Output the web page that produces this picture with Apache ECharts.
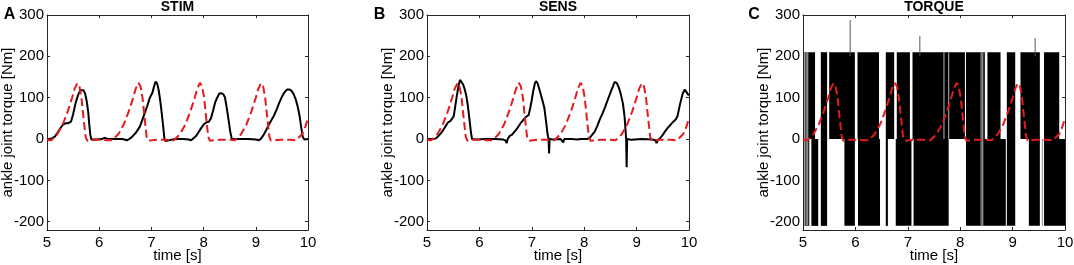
<!doctype html>
<html>
<head>
<meta charset="utf-8">
<title>ankle torque</title>
<script type="text/javascript" src="https://cdn.jsdelivr.net/npm/echarts@6.0.0/dist/echarts.min.js"></script>
</head>

<body style="margin:0;padding:0;background:#fff">
<div id="fig" style="width:1074px;height:265px;"></div>
<script>
// axis ticks
var xTicks = [5, 6, 7, 8, 9, 10];
var yTicks = [-200, -100, 0, 100, 200, 300];
var panelTitles = ['STIM', 'SENS', 'TORQUE'];
var panelLetters = ['A', 'B', 'C'];

// red dashed reference torque (same in all three panels) [time, Nm]
var refTorque = [
  [5.00, 0], [5.04, -3], [5.08, -3], [5.12, 2], [5.20, 12], [5.30, 35], [5.40, 68], [5.48, 100],
  [5.53, 122], [5.58, 135], [5.62, 128], [5.66, 100], [5.70, 50], [5.74, 5], [5.77, -4], [5.85, -2],
  [6.00, -2], [6.15, -3], [6.25, -3], [6.29, 2], [6.37, 12], [6.47, 35], [6.57, 68], [6.65, 100],
  [6.70, 122], [6.75, 136], [6.79, 128], [6.83, 100], [6.87, 50], [6.91, 5], [6.94, -4], [7.10, -2],
  [7.30, -2], [7.43, -3], [7.47, 2], [7.55, 12], [7.65, 35], [7.75, 68], [7.83, 100], [7.88, 122],
  [7.93, 136], [7.97, 128], [8.01, 100], [8.05, 50], [8.09, 5], [8.12, -4], [8.30, -2], [8.50, -2],
  [8.60, -3], [8.64, 2], [8.72, 12], [8.82, 35], [8.92, 68], [9.00, 100], [9.05, 122], [9.10, 135],
  [9.14, 128], [9.18, 100], [9.22, 50], [9.26, 5], [9.29, -4], [9.45, -2], [9.65, -2], [9.77, -3],
  [9.81, 2], [9.89, 12], [9.95, 30], [10.0, 50]
];

// measured torque, STIM condition
var stimTorque = [
  [5.00, 0], [5.05, 0], [5.10, 2], [5.15, 6], [5.20, 15], [5.25, 25], [5.30, 34], [5.35, 38],
  [5.40, 38], [5.43, 36], [5.46, 42], [5.50, 60], [5.55, 88], [5.60, 108], [5.64, 118], [5.67, 120],
  [5.70, 118], [5.73, 110], [5.76, 92], [5.79, 65], [5.81, 35], [5.83, 10], [5.85, -1], [5.88, -3],
  [5.95, -1], [6.05, 0], [6.10, 3], [6.15, 1], [6.30, 0], [6.45, 0], [6.53, -3], [6.57, 0],
  [6.62, 4], [6.70, 15], [6.78, 30], [6.85, 55], [6.92, 80], [6.97, 100], [7.02, 112], [7.05, 127],
  [7.08, 139], [7.11, 134], [7.14, 118], [7.17, 92], [7.20, 60], [7.23, 25], [7.25, 0], [7.27, -5],
  [7.30, -1], [7.45, 0], [7.60, 0], [7.72, -1], [7.76, -3], [7.80, 1], [7.86, 8], [7.94, 24],
  [8.00, 35], [8.05, 40], [8.10, 42], [8.14, 50], [8.18, 68], [8.22, 88], [8.26, 100], [8.30, 110],
  [8.34, 111], [8.38, 108], [8.41, 100], [8.44, 78], [8.48, 45], [8.51, 18], [8.54, 0], [8.57, -2],
  [8.70, 0], [8.85, 0], [9.00, -1], [9.06, -3], [9.10, 1], [9.15, 10], [9.20, 22], [9.25, 35],
  [9.30, 46], [9.35, 57], [9.40, 72], [9.45, 88], [9.50, 102], [9.55, 113], [9.60, 120], [9.64, 120],
  [9.68, 117], [9.72, 110], [9.76, 98], [9.80, 80], [9.84, 55], [9.87, 28], [9.90, 5], [9.93, -1],
  [10.0, 0]
];

// measured torque, SENS condition
var sensTorque = [
  [5.00, 0], [5.10, 0], [5.16, 1], [5.20, 5], [5.25, 12], [5.30, 20], [5.35, 30], [5.40, 40],
  [5.45, 44], [5.48, 46], [5.51, 55], [5.54, 80], [5.57, 105], [5.60, 128], [5.63, 143], [5.66, 141],
  [5.69, 132], [5.72, 120], [5.75, 105], [5.78, 80], [5.81, 48], [5.84, 15], [5.86, 0], [5.88, -3],
  [5.95, -1], [6.10, 0], [6.30, 0], [6.45, -1], [6.50, -4], [6.52, -10], [6.54, 0], [6.58, 8],
  [6.62, 10], [6.70, 22], [6.78, 37], [6.85, 48], [6.90, 55], [6.94, 58], [6.97, 75], [7.00, 95],
  [7.03, 118], [7.06, 135], [7.08, 140], [7.11, 135], [7.15, 118], [7.20, 95], [7.24, 75], [7.27, 45],
  [7.30, 12], [7.32, 0], [7.33, -35], [7.34, 0], [7.40, -1], [7.55, 0], [7.60, -8], [7.62, 0],
  [7.75, 0], [7.88, -1], [7.90, -5], [7.92, 0], [8.05, 0], [8.10, 2], [8.15, 10], [8.20, 18],
  [8.25, 32], [8.30, 48], [8.35, 62], [8.40, 78], [8.45, 95], [8.50, 112], [8.55, 128], [8.58, 138],
  [8.62, 136], [8.66, 125], [8.70, 108], [8.74, 85], [8.77, 55], [8.79, 20], [8.80, 0], [8.81, -68],
  [8.82, 0], [8.90, -2], [9.10, 0], [9.30, -1], [9.36, -3], [9.38, -10], [9.41, -2], [9.45, 2],
  [9.50, 10], [9.55, 20], [9.60, 28], [9.65, 35], [9.70, 42], [9.75, 48], [9.78, 55], [9.83, 85],
  [9.88, 110], [9.92, 120], [9.95, 116], [9.98, 108], [10.0, 106]
];

// TORQUE condition: saturated switching torque, blocks [tStart, tEnd, low, high]
var torqueBlocks = [
  [5.02, 5.23, 0, 210], [5.34, 5.46, 0, 210], [5.50, 5.99, 0, 210], [6.04, 6.45, 0, 210],
  [6.58, 6.74, 0, 210], [6.79, 7.04, 0, 210], [7.09, 8.09, 0, 210], [8.11, 8.47, 0, 210],
  [8.52, 8.77, 0, 210], [8.89, 9.05, 0, 210], [9.15, 9.52, 0, 210], [9.60, 9.89, 0, 210],
  [5.02, 5.12, -210, 0], [5.16, 5.29, -210, 0], [5.34, 5.46, -210, 0], [5.79, 5.99, -210, 0],
  [6.05, 6.47, -210, 0], [6.58, 6.62, -210, 0], [6.77, 7.07, -210, 0], [7.11, 7.78, -210, 0],
  [8.11, 8.87, -210, 0], [8.89, 9.05, -210, 0], [9.31, 9.52, -210, 0], [9.60, 10.0, -210, 0]
];
// short glitches inside the switching torque [time, low, high]
var torqueGlitches = [
  [5.03, -210, 210], [5.06, -210, 210], [5.09, -210, 210], [7.69, 0, 210], [7.78, 0, 210],
  [8.40, -210, 210], [8.43, -210, 210], [9.57, -210, 0]
];
// single overshoot spikes [time, peak]
var torqueSpikes = [[5.90, 288], [7.23, 249], [9.43, 244]];

var fig = document.getElementById('fig');
var chart = echarts.init(fig, null, {renderer: 'canvas'});

var FONT = 'Liberation Sans';
var AXC = '#262626';
// plot rectangles in px
var grids = [
  {left: 47, right: 766, top: 15, bottom: 35, outerBoundsMode: 'none'},
  {left: 427, right: 385, top: 15, bottom: 35, outerBoundsMode: 'none'},
  {left: 803, right: 9, top: 15, bottom: 35, outerBoundsMode: 'none'}
];
var letterX = [9.5, 379.5, 754];

var xAxes = [], yAxes = [], graphics = [];
grids.forEach(function (g, i) {
  xAxes.push({
    type: 'value', gridIndex: i, min: 5, max: 10, interval: 1,
    axisLine: {onZero: false, lineStyle: {color: AXC, width: 1}},
    axisTick: {inside: true, length: 3, lineStyle: {color: AXC}},
    axisLabel: {color: '#000', fontSize: 15, fontFamily: FONT, margin: 5},
    splitLine: {show: false},
    name: 'time [s]', nameLocation: 'middle', nameGap: 18, nameMoveOverlap: false,
    nameTextStyle: {color: '#000', fontSize: 15, fontFamily: FONT}
  });
  yAxes.push({
    type: 'value', gridIndex: i, min: -220, max: 300,
    axisLine: {onZero: false, lineStyle: {color: AXC, width: 1}},
    axisTick: {inside: true, length: 3, customValues: yTicks, lineStyle: {color: AXC}},
    axisLabel: {color: '#000', fontSize: 15, fontFamily: FONT, margin: 3, customValues: yTicks},
    splitLine: {show: false},
    name: 'ankle joint torque [Nm]', nameLocation: 'middle', nameGap: 32, nameMoveOverlap: false,
    nameTextStyle: {color: '#000', fontSize: 15, fontFamily: FONT}
  });
  var cx = g.left + (1074 - g.right - g.left) / 2;
  graphics.push({type: 'text', x: cx, y: 7, style: {text: panelTitles[i], textAlign: 'center', textVerticalAlign: 'middle', font: 'bold 14px ' + FONT, fill: '#000'}});
  graphics.push({type: 'text', x: letterX[i], y: 15, style: {text: panelLetters[i], textAlign: 'center', textVerticalAlign: 'middle', font: 'bold 16px ' + FONT, fill: '#000'}});
});
// box: top and right axes with inward ticks
grids.forEach(function (g, i) {
  xAxes.push({
    type: 'value', gridIndex: i, position: 'top', min: 5, max: 10, interval: 1,
    axisLine: {onZero: false, lineStyle: {color: AXC, width: 1}},
    axisTick: {inside: true, length: 3, lineStyle: {color: AXC}},
    axisLabel: {show: false}, splitLine: {show: false}
  });
  yAxes.push({
    type: 'value', gridIndex: i, position: 'right', min: -220, max: 300,
    axisLine: {onZero: false, lineStyle: {color: AXC, width: 1}},
    axisTick: {inside: true, length: 3, customValues: yTicks, lineStyle: {color: AXC}},
    axisLabel: {show: false, customValues: yTicks}, splitLine: {show: false}
  });
});

function refLine(i) {
  return {
    type: 'line', xAxisIndex: i, yAxisIndex: i, data: refTorque, symbol: 'none', z: 5,
    lineStyle: {color: '#e41a1c', width: 2, type: [8, 4]}
  };
}

chart.setOption({
  animation: false,
  grid: grids,
  xAxis: xAxes,
  yAxis: yAxes,
  graphic: graphics,
  series: [
    {type: 'line', xAxisIndex: 0, yAxisIndex: 0, data: stimTorque, symbol: 'none', z: 3,
     lineStyle: {color: '#000', width: 2}},
    refLine(0),
    {type: 'line', xAxisIndex: 1, yAxisIndex: 1, data: sensTorque, symbol: 'none', z: 3,
     lineStyle: {color: '#000', width: 2}},
    refLine(1),
    {type: 'custom', xAxisIndex: 2, yAxisIndex: 2, data: torqueBlocks, z: 2,
     encode: {x: [0, 1], y: [2, 3]},
     renderItem: function (params, api) {
       var p1 = api.coord([api.value(0), api.value(3)]);
       var p2 = api.coord([api.value(1), api.value(2)]);
       return {type: 'rect', shape: {x: p1[0], y: p1[1], width: p2[0] - p1[0], height: p2[1] - p1[1]},
               style: {fill: '#000'}};
     }},
    {type: 'custom', xAxisIndex: 2, yAxisIndex: 2, data: torqueGlitches, z: 3,
     encode: {x: 0, y: [1, 2]},
     renderItem: function (params, api) {
       var p1 = api.coord([api.value(0), api.value(1)]);
       var p2 = api.coord([api.value(0), api.value(2)]);
       return {type: 'line', shape: {x1: p1[0], y1: p1[1], x2: p2[0], y2: p2[1]},
               style: {stroke: '#9a9a9a', lineWidth: 1.2}};
     }},
    {type: 'custom', xAxisIndex: 2, yAxisIndex: 2, data: torqueSpikes, z: 3,
     encode: {x: 0, y: 1},
     renderItem: function (params, api) {
       var p1 = api.coord([api.value(0), 200]);
       var p2 = api.coord([api.value(0), api.value(1)]);
       return {type: 'line', shape: {x1: p1[0], y1: p1[1], x2: p2[0], y2: p2[1]},
               style: {stroke: '#555', lineWidth: 1}};
     }},
    refLine(2)
  ]
});
</script>
</body>
</html>
